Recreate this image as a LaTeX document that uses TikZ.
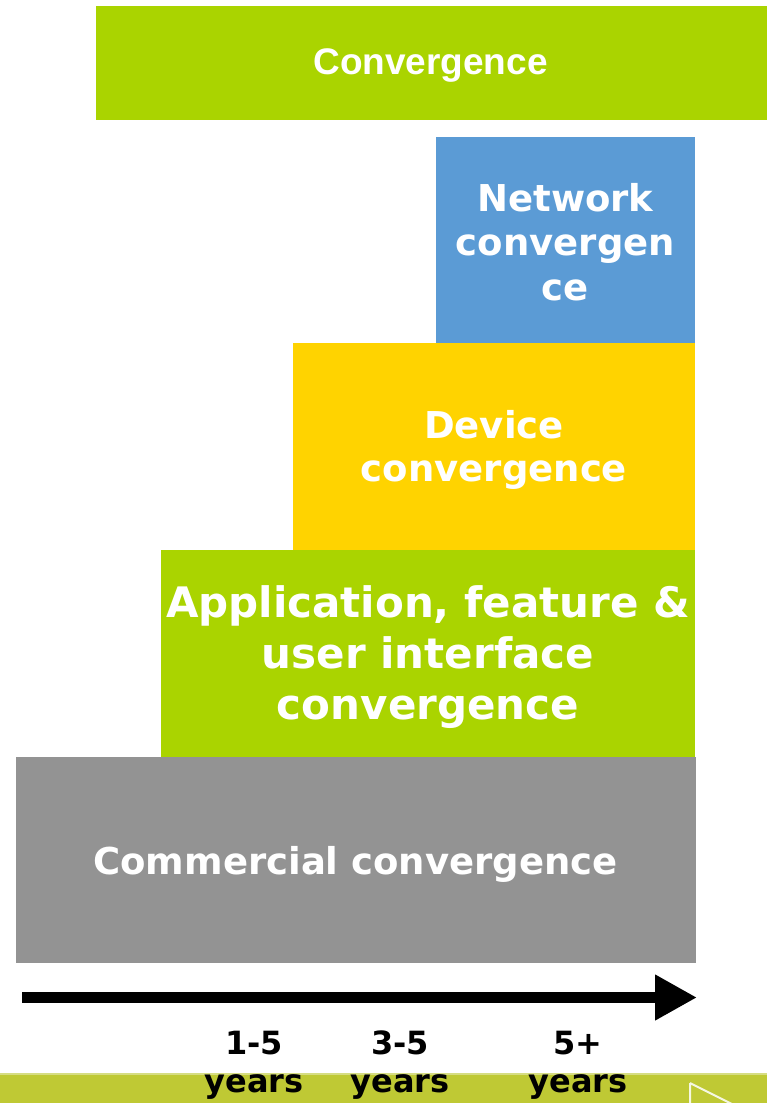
\documentclass[tikz,border=0pt]{standalone}
\usepackage{fontspec}
\usetikzlibrary{arrows.meta}
\newfontfamily\verd{DejaVu Sans}
\newfontfamily\arial{Liberation Sans}
\definecolor{cgreen}{RGB}{170,212,0}
\definecolor{cblue}{RGB}{91,155,213}
\definecolor{cyellow}{RGB}{255,211,0}
\definecolor{cgray}{RGB}{147,147,147}
\definecolor{cbar}{RGB}{191,201,52}
\definecolor{cbarline}{RGB}{214,221,130}
\tikzset{
  blk/.style={draw=none, anchor=north west, inner sep=0pt},
  lbl/.style={text=white, align=center, inner sep=0pt},
  yrs/.style={text=black, align=center, inner sep=0pt, font=\verd\bfseries\fontsize{32}{38}\selectfont},
}
\begin{document}
\begin{tikzpicture}[x=1pt,y=-1pt]
\useasboundingbox (0,0) rectangle (767,1103);
\clip (0,0) rectangle (767,1103);
% boxes
\node[blk, fill=cgreen, minimum width=671pt, minimum height=114pt] (conv) at (96,6) {};
\node[blk, fill=cblue, minimum width=259pt, minimum height=206pt] (net) at (436,137) {};
\node[blk, fill=cyellow, minimum width=402pt, minimum height=207pt] (dev) at (293,343) {};
\node[blk, fill=cgreen, minimum width=534pt, minimum height=207pt] (app) at (161,550) {};
\node[blk, fill=cgray, minimum width=680pt, minimum height=206pt] (com) at (16,757) {};
% labels
\node[lbl, font=\arial\bfseries\fontsize{37}{42}\selectfont] (convt) at (430.5,66) {Convergence};
\node[lbl, font=\verd\bfseries\fontsize{37}{44.5}\selectfont] (nett) at (565.5,242) {Network\\convergen\\ce};
\node[lbl, font=\verd\bfseries\fontsize{37}{43}\selectfont] (devt) at (494,450) {Device\\convergence};
\node[lbl, font=\verd\bfseries\fontsize{42}{51}\selectfont] (appt) at (428,657) {Application, feature \&\\user interface\\convergence};
\node[lbl, font=\verd\bfseries\fontsize{37}{42}\selectfont] (comt) at (355.5,864) {Commercial convergence};
% timeline arrow
\coordinate (t0) at (22,997.5);
\coordinate (t1) at (697,997.5);
\draw[line width=11pt, -{Triangle[length=42pt,width=43pt]}] (t0) -- (t1);
% bottom bar
\fill[cbar] (0,1073) rectangle (767,1103);
\draw[cbarline, line width=1.5pt] (0,1073.75) -- (767,1073.75);
\draw[white!85!cbar, line width=2pt] (690,1083) -- (770,1123) (690,1083) -- (690,1110);
% years
\node[yrs] (y1) at (254,1065) {1-5\\years};
\node[yrs] (y2) at (400,1065) {3-5\\years};
\node[yrs] (y3) at (578,1065) {5+\\years};
\end{tikzpicture}
\end{document}
